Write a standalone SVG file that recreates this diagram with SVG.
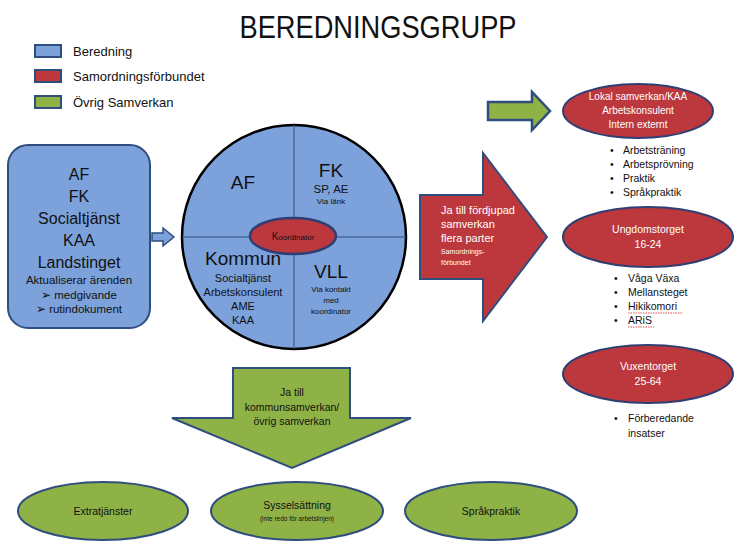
<svg xmlns="http://www.w3.org/2000/svg" width="756" height="558" viewBox="0 0 756 558">
<style>
text{font-family:"Liberation Sans",Arial,sans-serif;fill:#111}
.c{text-anchor:middle}
.w{fill:#fff}
.blue{fill:#7CA1DB;stroke:#2F4E7E;stroke-width:2}
.red{fill:#BC383C;stroke:#2F3F74;stroke-width:2}
.green{fill:#8FB247;stroke:#2F4E7E;stroke-width:2}
.q{stroke:#2F4E7E;stroke-width:1;fill:none}
.wave{fill:none;stroke:#E02020;stroke-width:0.8;stroke-dasharray:1.5 1}
</style>
<rect width="756" height="558" fill="#fff"/>
<text x="378" y="38" class="c" font-size="31" textLength="277" lengthAdjust="spacingAndGlyphs">BEREDNINGSGRUPP</text>

<g id="legend">
<rect x="35" y="45" width="26" height="12" class="blue"/>
<text x="73" y="56" font-size="13">Beredning</text>
<rect x="35" y="70" width="26" height="12" class="red" style="stroke:#2F4E7E"/>
<text x="73" y="81" font-size="13">Samordningsförbundet</text>
<rect x="35" y="96" width="26" height="12" class="green"/>
<text x="73" y="107" font-size="13">Övrig Samverkan</text>
</g>

<g id="actors">
<rect x="8" y="145" width="142" height="183" rx="20" class="blue"/>
<text x="79" y="180" class="c" font-size="16">AF</text>
<text x="79" y="202" class="c" font-size="16">FK</text>
<text x="79" y="224" class="c" font-size="16">Socialtjänst</text>
<text x="79" y="246" class="c" font-size="16">KAA</text>
<text x="79" y="268" class="c" font-size="16">Landstinget</text>
<text x="79" y="284" class="c" font-size="11.5">Aktualiserar ärenden</text>
<text x="79" y="299" class="c" font-size="11.5">➢ medgivande</text>
<text x="79" y="313" class="c" font-size="11.5">➢ rutindokument</text>
</g>

<g id="circle">
<circle cx="294" cy="237" r="112" fill="#7CA1DB" stroke="#000" stroke-width="2.5"/>
<line x1="294" y1="125" x2="294" y2="349" class="q"/>
<line x1="182" y1="237" x2="406" y2="237" class="q"/>
<text x="243" y="189" class="c" font-size="19">AF</text>
<text x="331" y="177" class="c" font-size="19">FK</text>
<text x="331" y="193" class="c" font-size="11.5">SP, AE</text>
<text x="331" y="204" class="c" font-size="8">Via länk</text>
<text x="243" y="265" class="c" font-size="19">Kommun</text>
<text x="243" y="282" class="c" font-size="11">Socialtjänst</text>
<text x="243" y="296" class="c" font-size="11">Arbetskonsulent</text>
<text x="243" y="310" class="c" font-size="11">AME</text>
<text x="243" y="324" class="c" font-size="11">KAA</text>
<text x="331" y="278" class="c" font-size="19">VLL</text>
<text x="331" y="292" class="c" font-size="8">Via kontakt</text>
<text x="331" y="303" class="c" font-size="8">med</text>
<text x="331" y="314" class="c" font-size="8">koordinator</text>
</g>

<g id="koordinator">
<ellipse cx="293" cy="236" rx="43" ry="18" class="red" style="stroke-width:2.5"/>
<text x="293" y="240" class="c" font-size="8"><tspan font-size="10">K</tspan>oordinator</text>
</g>

<g id="lokal">
<ellipse cx="638" cy="111" rx="75" ry="27" class="red"/>
<text x="638" y="100" class="c w" font-size="10">Lokal samverkan/KAA</text>
<text x="638" y="114" class="c w" font-size="10">Arbetskonsulent</text>
<text x="638" y="128" class="c w" font-size="10">Intern externt</text>
<text x="610" y="154" font-size="10.5">•</text><text x="623" y="154" font-size="10.5">Arbetsträning</text>
<text x="610" y="168" font-size="10.5">•</text><text x="623" y="168" font-size="10.5">Arbetsprövning</text>
<text x="610" y="182" font-size="10.5">•</text><text x="623" y="182" font-size="10.5">Praktik</text>
<text x="610" y="196" font-size="10.5">•</text><text x="623" y="196" font-size="10.5">Språkpraktik</text>
</g>

<g id="ungdomstorget">
<ellipse cx="648" cy="237" rx="85" ry="30" class="red"/>
<text x="648" y="233" class="c w" font-size="10.5">Ungdomstorget</text>
<text x="648" y="248" class="c w" font-size="10.5">16-24</text>
<text x="614" y="282" font-size="10.5">•</text><text x="628" y="282" font-size="10.5">Våga Växa</text>
<text x="614" y="296" font-size="10.5">•</text><text x="628" y="296" font-size="10.5">Mellansteget</text>
<text x="614" y="310" font-size="10.5">•</text><text x="628" y="310" font-size="10.5">Hikikomori</text>
<text x="614" y="324" font-size="10.5">•</text><text x="628" y="324" font-size="10.5">ARiS</text>
<path d="M628 313 h55" class="wave"/>
<path d="M628 327 h26" class="wave"/>
</g>

<g id="vuxentorget">
<ellipse cx="648" cy="374" rx="85" ry="29" class="red"/>
<text x="648" y="370" class="c w" font-size="10.5">Vuxentorget</text>
<text x="648" y="385" class="c w" font-size="10.5">25-64</text>
<text x="614" y="422" font-size="10.5">•</text><text x="628" y="422" font-size="10.5">Förberedande</text>
<text x="628" y="437" font-size="10.5">insatser</text>
</g>

<g id="extratjanster">
<ellipse cx="103" cy="511" rx="85" ry="29" class="green"/>
<text x="103" y="515" class="c" font-size="10.5">Extratjänster</text>
</g>
<g id="sysselsattning">
<ellipse cx="297" cy="511" rx="86" ry="29" class="green"/>
<text x="297" y="509" class="c" font-size="10.5">Sysselsättning</text>
<text x="297" y="521" class="c" font-size="6.5">(inte redo för arbetslinjen)</text>
</g>
<g id="sprakpraktik">
<ellipse cx="491" cy="511" rx="86" ry="29" class="green"/>
<text x="491" y="515" class="c" font-size="10.5">Språkpraktik</text>
</g>

<g id="connectors">
<path d="M152 233 H163 V228 L174 237 L163 246 V241 H152 Z" class="blue" style="stroke-width:1.5"/>
<path d="M420 195 H483 V153 L547 237 L483 321 V279 H420 Z" class="red" style="stroke:#2F4E7E"/>
<text x="441" y="214" class="w" font-size="11">Ja till fördjupad</text>
<text x="441" y="228" class="w" font-size="11">samverkan</text>
<text x="441" y="242" class="w" font-size="11">flera parter</text>
<text x="441" y="254" class="w" font-size="7">Samordnings-</text>
<text x="441" y="265" class="w" font-size="7">förbundet</text>
<path d="M488 102 H532 V92 L550 111 L532 130 V120 H488 Z" class="green" style="stroke-width:2.5"/>
<path d="M233 368 H350 V418 H411 L292 468 L172 418 H233 Z" class="green" style="stroke-width:2"/>
<text x="292" y="396" class="c" font-size="10.5">Ja till</text>
<text x="292" y="411" class="c" font-size="10.5">kommunsamverkan/</text>
<text x="292" y="425" class="c" font-size="10.5">övrig samverkan</text>
</g>
</svg>
